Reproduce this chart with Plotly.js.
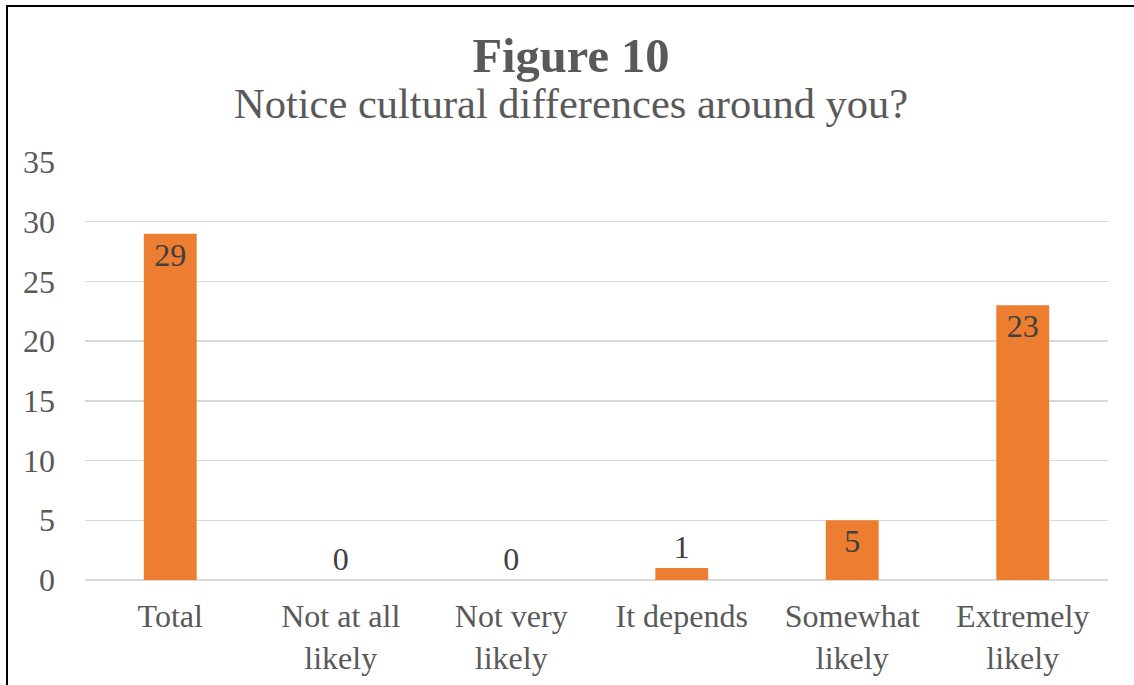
<!DOCTYPE html>
<html>
<head>
<meta charset="utf-8">
<script src="https://cdn.plot.ly/plotly-3.0.1.min.js"></script>
<style>
html,body{margin:0;padding:0;background:#fff;}
#wrap{position:relative;width:1134px;height:685px;}
#chart{width:1134px;height:685px;}
#frame{position:absolute;left:6px;top:5px;right:0;bottom:0;border-left:2px solid #000;border-top:2px solid #000;pointer-events:none;}
</style>
</head>
<body>
<div id="wrap"><div id="chart"></div><div id="frame"></div></div>
<script>
const categories = ["Total", "Not at all<br>likely", "Not very<br>likely", "It depends", "Somewhat<br>likely", "Extremely<br>likely"];
const counts = [29, 0, 0, 1, 5, 23];
const labelPositions = ["inside", "outside", "outside", "outside", "inside", "inside"];
const yTicks = [0, 5, 10, 15, 20, 25, 30, 35];
const titleText = "Figure 10";
const subtitleText = "Notice cultural differences around you?";

const font = "Liberation Serif, Times New Roman, serif";
const grey = "#595959";

const trace = {
  type: "bar",
  x: categories,
  y: counts,
  text: counts.map(String),
  textposition: labelPositions,
  insidetextanchor: "end",
  constraintext: "none",
  cliponaxis: false,
  textfont: {family: font, size: 32, color: "#404040"},
  insidetextfont: {family: font, size: 32, color: "#404040"},
  outsidetextfont: {family: font, size: 32, color: "#404040"},
  marker: {color: "#ED7D31"},
  hoverinfo: "none"
};

const layout = {
  width: 1134,
  height: 685,
  margin: {l: 85, r: 26, t: 162, b: 105},
  paper_bgcolor: "#ffffff",
  plot_bgcolor: "#ffffff",
  showlegend: false,
  bargap: 0.69,
  font: {family: font, color: grey},
  title: {
    text: "<b>" + titleText + "</b>",
    font: {family: font, size: 48.5, color: grey},
    x: 571 / 1134, xref: "container", xanchor: "center",
    y: 1 - 55 / 685, yref: "container", yanchor: "middle"
  },
  annotations: [{
    text: subtitleText,
    xref: "paper", yref: "paper",
    x: (570.5 - 85) / 1023, y: 1 + (162 - 103) / 418,
    xanchor: "center", yanchor: "middle",
    showarrow: false,
    font: {family: font, size: 42.5, color: grey}
  }],
  xaxis: {
    type: "category",
    showgrid: false,
    showline: false,
    zeroline: false,
    ticks: "",
    tickfont: {family: font, size: 32, color: grey},
    ticklabelstandoff: 14
  },
  yaxis: {
    range: [0, 35],
    tickvals: yTicks,
    ticktext: yTicks.map(String),
    showgrid: true,
    gridcolor: "#d9d9d9",
    gridwidth: 1.5,
    zeroline: true,
    zerolinecolor: "#d9d9d9",
    zerolinewidth: 1.5,
    showline: false,
    ticks: "",
    tickfont: {family: font, size: 32, color: grey},
    ticklabelstandoff: 29
  }
};

Plotly.newPlot("chart", [trace], layout, {displayModeBar: false, staticPlot: true});
</script>
</body>
</html>
